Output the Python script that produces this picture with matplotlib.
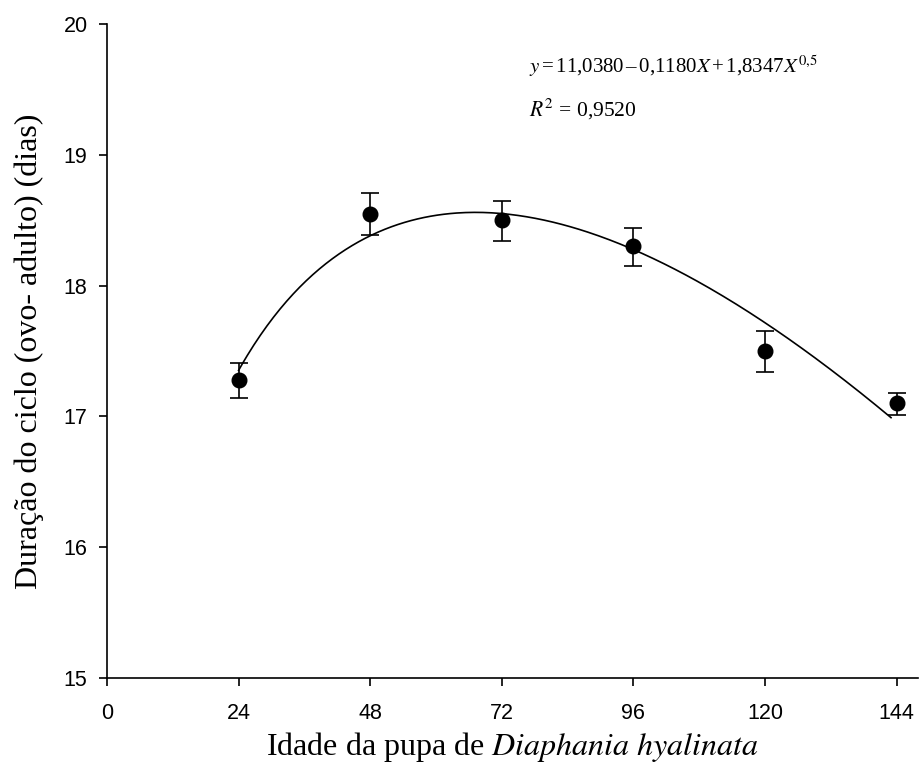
import numpy as np
import matplotlib
matplotlib.use("Agg")
import matplotlib.pyplot as plt

plt.rcParams['mathtext.fontset'] = 'stix'

idade = [24, 48, 72, 96, 120, 144]
duracao = [17.28, 18.55, 18.50, 18.30, 17.50, 17.10]
erro_sup = [0.13, 0.16, 0.15, 0.14, 0.15, 0.08]
erro_inf = [0.14, 0.16, 0.16, 0.15, 0.16, 0.09]
xticks = [0, 24, 48, 72, 96, 120, 144]
yticks = [15, 16, 17, 18, 19, 20]

# fitted curve y = a + bX + c*sqrt(X) (least squares on the means)
X = np.array(idade, float)
A = np.column_stack([np.ones_like(X), X, np.sqrt(X)])
coef, *_ = np.linalg.lstsq(A, np.array(duracao), rcond=None)
xs = np.linspace(24, 143, 300)
ys = coef[0] + coef[1] * xs + coef[2] * np.sqrt(xs)

fig = plt.figure(figsize=(9.2, 7.81), dpi=100)
ax = fig.add_axes([0.1163, 0.1319, 0.882, 0.8374])

ax.plot(xs, ys, color='black', lw=1.2)
ax.errorbar(idade, duracao, yerr=[erro_inf, erro_sup], fmt='o', color='black',
            ms=10.5, capsize=6.8, elinewidth=1.2, capthick=1.2)

ax.set_xlim(0, 148)
ax.set_ylim(15, 20)
ax.set_xticks(xticks)
ax.set_yticks(yticks)
for s in ['top', 'right']:
    ax.spines[s].set_visible(False)
for s in ['left', 'bottom']:
    ax.spines[s].set_linewidth(1.2)
ax.tick_params(direction='out', length=6, width=1.2, labelsize=15.5)
ax.tick_params(axis='x', pad=12)
ax.tick_params(axis='y', pad=8)
for lab in ax.get_xticklabels() + ax.get_yticklabels():
    lab.set_family('Liberation Sans')

ax.set_xlabel('Idade da pupa de $\\mathit{Diaphania\\ hyalinata}$',
              fontfamily='Liberation Serif', fontsize=23, labelpad=4)
ax.set_ylabel('Duração do ciclo (ovo- adulto) (dias)',
              fontfamily='Liberation Serif', fontsize=23, labelpad=14)

ax.text(77, 19.625,
        '$y\\,$=$\\,$11,0380$\\,$–$\\,$0,1180$X\\,$+$\\,$1,8347$X^{0{,}5}$',
        fontsize=15, fontfamily='Liberation Serif', va='baseline')
ax.text(77, 19.29, '$R^{2}$ = 0,9520',
        fontsize=15.5, fontfamily='Liberation Serif', va='baseline')

fig.savefig('out.png', dpi=100)
